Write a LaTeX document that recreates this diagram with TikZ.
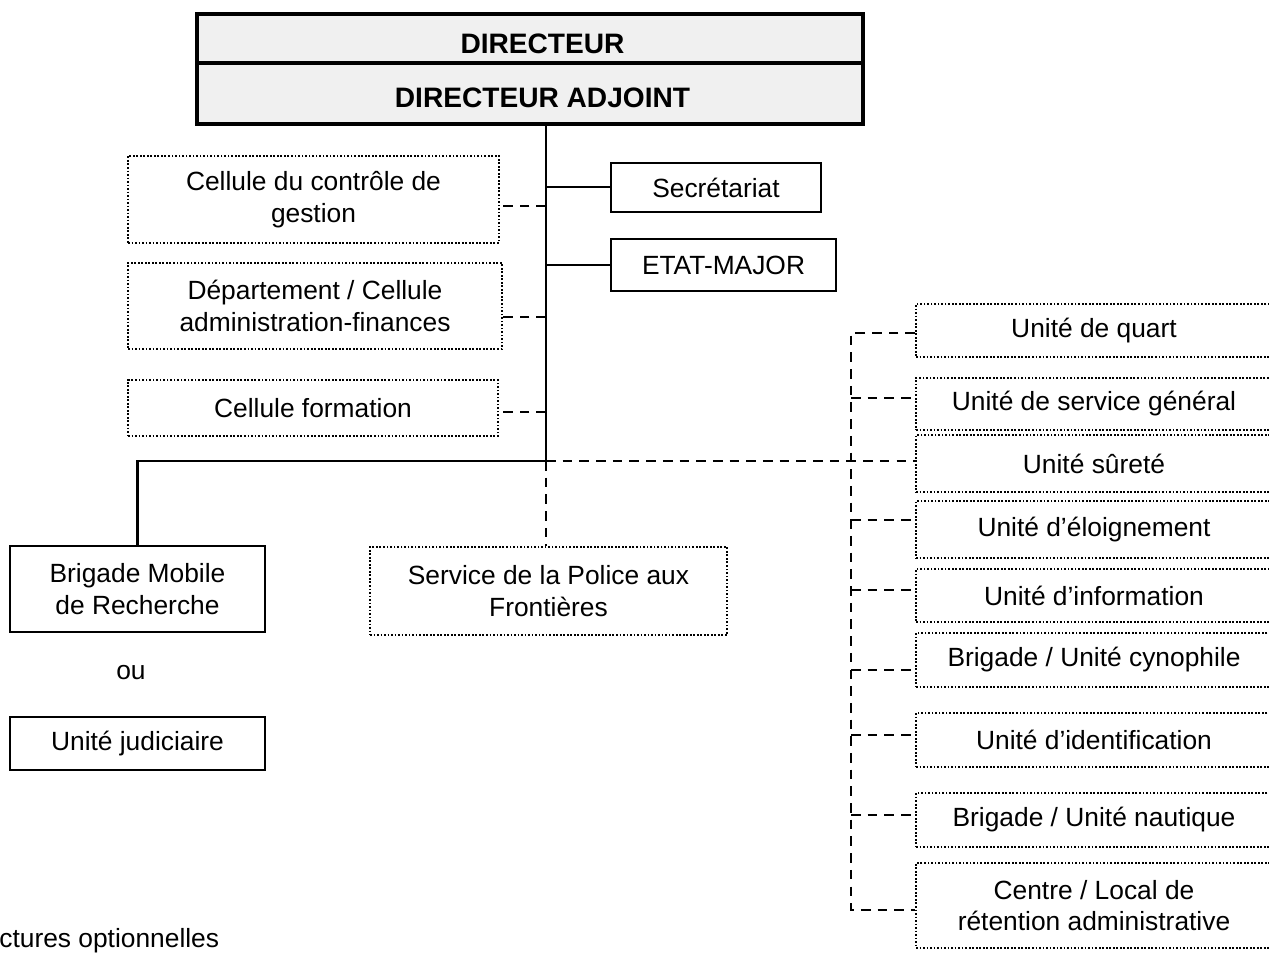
\documentclass[tikz,border=0pt]{standalone}
\usepackage{fontspec}
\setmainfont{Liberation Sans}
\begin{document}
\begin{tikzpicture}[x=0.02cm,y=-0.02cm,
  every node/.style={font=\fontsize{15}{18}\selectfont, align=center, inner sep=0pt},
  solidbox/.style={draw, line width=1.4pt},
  dotbox/.style={draw, line width=1.1pt, dash pattern=on 1pt off 1pt},
  dashline/.style={line width=1.6pt, dash pattern=on 5.5pt off 4pt},
  solidline/.style={line width=1.6pt},
  topbox/.style={draw, line width=1.9pt, fill=gray!12, minimum width=13.32cm, font=\fontsize{16}{19}\selectfont\bfseries},
  rbox/.style={dotbox, minimum width=7.12cm}]
\clip (0,0) rectangle (1269,958);
% top box
\node[topbox, minimum height=0.98cm] (dir) at (530,38.5) {\hspace{0.5cm}\raisebox{-3.2pt}[\height][\depth]{DIRECTEUR}};
\node[topbox, minimum height=1.22cm] (adj) at (530,93.5) {\hspace{0.5cm}\raisebox{-2.2pt}[\height][\depth]{DIRECTEUR ADJOINT}};
% staff boxes
\node[solidbox, minimum width=4.2cm, minimum height=0.98cm] (sec) at (716,187.5) {Secrétariat};
\node[solidbox, minimum width=4.5cm, minimum height=1.04cm] (em) at (723.5,265) {ETAT-MAJOR};
\node[dotbox, minimum width=7.42cm, minimum height=1.74cm] (cg) at (313.5,199.5) {Cellule du contrôle de\\gestion};
\node[dotbox, minimum width=7.48cm, minimum height=1.72cm] (daf) at (315,306) {Département / Cellule\\administration-finances};
\node[dotbox, minimum width=7.4cm, minimum height=1.12cm] (cf) at (313,408) {Cellule formation};
% lower left
\node[solidbox, minimum width=5.1cm, minimum height=1.72cm] (bmr) at (137.5,589) {Brigade Mobile\\de Recherche};
\node (ou) at (131,673) {ou};
\node[solidbox, minimum width=5.1cm, minimum height=1.06cm] (uj) at (137.5,743.5) {Unité judiciaire};
\node[dotbox, minimum width=7.14cm, minimum height=1.76cm] (spf) at (548.5,591) {Service de la Police aux\\Frontières};
% right column
\node[rbox, minimum height=1.06cm] (quart) at (1094,330.5) {Unité de quart};
\node[rbox, minimum height=1.04cm] (sg) at (1094,404) {Unité de service général};
\node[rbox, minimum height=1.14cm] (sur) at (1094,463.5) {Unité sûreté};
\node[rbox, minimum height=1.14cm] (elo) at (1094,529.5) {Unité d’éloignement};
\node[rbox, minimum height=1.06cm] (info) at (1094,595.5) {Unité d’information};
\node[rbox, minimum height=1.08cm] (cyn) at (1094,660) {Brigade / Unité cynophile};
\node[rbox, minimum height=1.08cm] (ident) at (1094,740) {Unité d’identification};
\node[rbox, minimum height=1.08cm] (naut) at (1094,820) {Brigade / Unité nautique};
\node[rbox, minimum height=1.7cm] (cra) at (1094,905.5) {Centre / Local de\\rétention administrative};
% legend
\node[anchor=base west] (leg) at (-1,947) {ctures optionnelles};
% junctions
\coordinate (trunk) at (546,0);
\coordinate (t0) at (adj.south -| trunk);
\coordinate (jsec) at (546,187);
\coordinate (jem) at (546,265);
\coordinate (jcg) at (546,206);
\coordinate (jdaf) at (546,317);
\coordinate (jcf) at (546,412);
\coordinate (jmain) at (546,461);
\coordinate (bus) at (851,0);
% solid connectors
\draw[solidline] (t0) -- (jmain);
\draw[solidline] (jsec) -- (jsec -| sec.west);
\draw[solidline] (jem) -- (jem -| em.west);
\draw[solidline] (jmain) -| (bmr.north);
% dashed connectors
\draw[dashline] (jcg) -- (jcg -| cg.east);
\draw[dashline] (jdaf) -- (jdaf -| daf.east);
\draw[dashline] (jcf) -- (jcf -| cf.east);
\draw[dashline] (jmain) -- (jmain |- spf.north);
\draw[dashline] (jmain) -- (jmain -| sur.west);
\coordinate (cq) at ([yshift=-0.05cm]quart.west);
\coordinate (csg) at ([yshift=0.12cm]sg.west);
\coordinate (celo) at ([yshift=0.19cm]elo.west);
\coordinate (cinfo) at ([yshift=0.11cm]info.west);
\coordinate (ccyn) at ([yshift=-0.2cm]cyn.west);
\coordinate (cident) at ([yshift=0.1cm]ident.west);
\coordinate (cnaut) at ([yshift=0.1cm]naut.west);
\coordinate (ccra) at ([yshift=-0.09cm]cra.west);
\draw[dashline] (cq) -- (cq -| bus) -- (ccra -| bus) -- (ccra);
\foreach \c in {csg,celo,cinfo,ccyn,cident,cnaut}
  \draw[dashline] (\c -| bus) -- (\c);
\end{tikzpicture}
\end{document}
